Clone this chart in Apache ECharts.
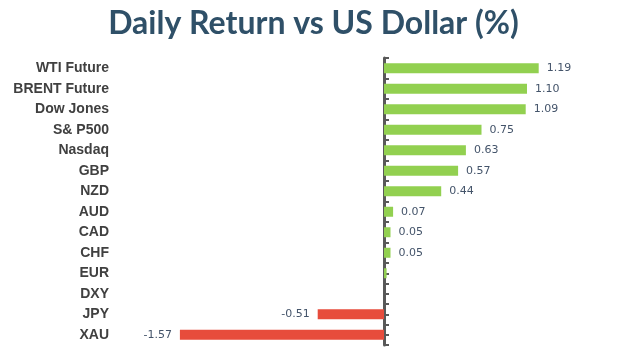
<!DOCTYPE html>
<html><head><meta charset="utf-8">
<script src="https://cdn.jsdelivr.net/npm/echarts@6/dist/echarts.min.js"></script>
<style>html,body{margin:0;padding:0;background:#fff}#c{width:627px;height:356px}</style>
</head><body><div id="c"></div>
<script>
const categories = ["WTI Future","BRENT Future","Dow Jones","S& P500","Nasdaq","GBP","NZD","AUD","CAD","CHF","EUR","DXY","JPY","XAU"];
const values = [1.19,1.10,1.09,0.75,0.63,0.57,0.44,0.07,0.05,0.05,0.02,0.00,-0.51,-1.57];
const hiddenLabels = ["EUR","DXY"];
const tickSlots = Array.from({length: categories.length * 2}, (_, i) => String(i));

const chart = echarts.init(document.getElementById('c'));
chart.setOption({
  animation: false,
  title: {
    text: 'Daily Return vs US Dollar (%)',
    left: 'center', top: 3,
    textStyle: {fontFamily: 'Lato', fontWeight: 'bold', fontSize: 32, color: '#2F5068'}
  },
  grid: {left: 176, right: 35, top: 58, height: 287, containLabel: false},
  xAxis: {type: 'value', min: -1.6, max: 1.6, show: false},
  yAxis: [
    {type: 'category', data: categories, inverse: true, position: 'left',
     axisLine: {show: false, onZero: false}, axisTick: {show: false},
     axisLabel: {fontFamily: 'Liberation Sans', fontWeight: 'bold', fontSize: 14, color: '#404040', margin: 67}},
    {type: 'category', data: tickSlots, inverse: true, position: 'left',
     axisLine: {show: true, onZero: true, lineStyle: {color: '#595959', width: 3}},
     axisTick: {show: true, inside: true, length: 5, interval: 0, lineStyle: {color: '#595959', width: 2}},
     axisLabel: {show: false}}
  ],
  series: [{
    type: 'bar', yAxisIndex: 0, barWidth: 10,
    data: values.map((v, i) => ({
      value: v,
      itemStyle: {color: v >= 0 ? '#92D050' : '#E74C3C'},
      label: {show: hiddenLabels.indexOf(categories[i]) < 0, position: v >= 0 ? 'right' : 'left'}
    })),
    label: {distance: 8, fontFamily: 'DejaVu Sans', fontSize: 11, color: '#44546A',
            formatter: p => p.value.toFixed(2)}
  }]
});
</script></body></html>
